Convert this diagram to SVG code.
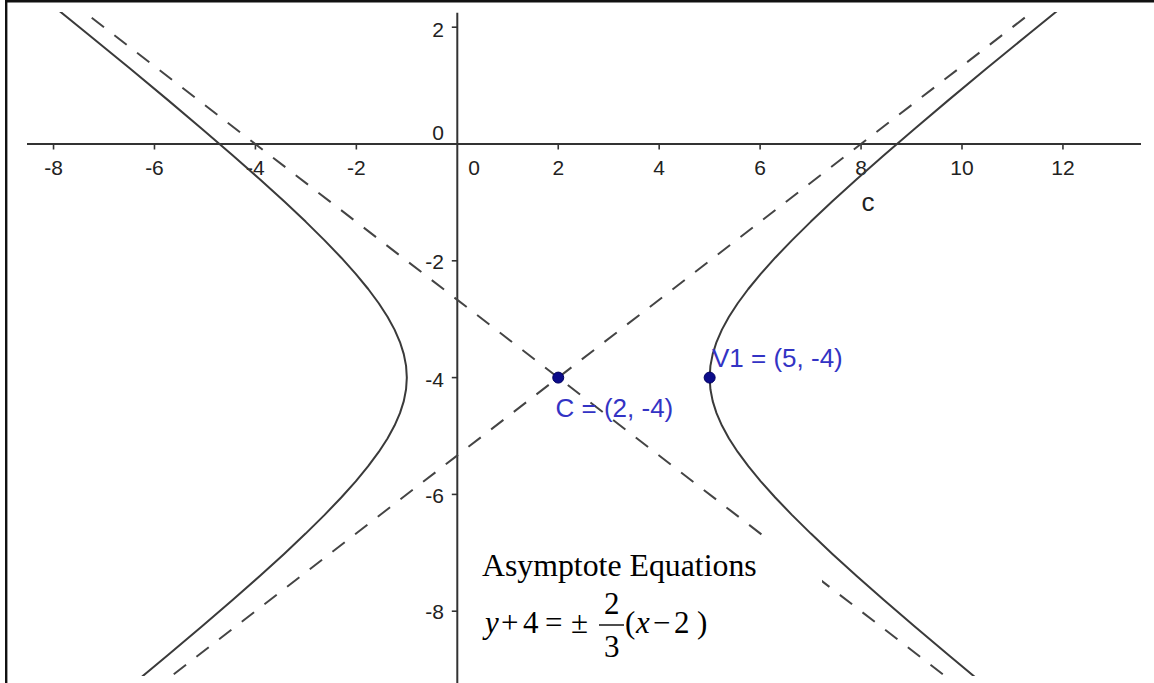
<svg xmlns="http://www.w3.org/2000/svg" width="1154" height="683" viewBox="0 0 1154 683">
<style>
.ax{stroke:#333;stroke-width:2;fill:none}
.tk{stroke:#333;stroke-width:1.6}
.lbl{font-family:"Liberation Sans",Arial,sans-serif;font-size:21px;fill:#222}
.yl{text-anchor:end}
.xl{text-anchor:middle}
.curve{stroke:#3a3a3a;stroke-width:2;fill:none;stroke-linejoin:round}
.asym{stroke:#444;stroke-width:2;fill:none;stroke-dasharray:15.5 13.13}
.pt{fill:#0c0c8a;stroke:#000060;stroke-width:1}
.ptl{font-family:"Liberation Sans",Arial,sans-serif;font-size:26px;fill:#3333c4}
.eq{font-family:"Liberation Serif","Times New Roman",serif;font-size:31px;fill:#000}
.it{font-style:italic}
</style>
<defs>
<clipPath id="view"><rect x="0" y="12" width="1154" height="664"/></clipPath>
</defs>
<rect width="1154" height="683" fill="#fff"/>
<g id="frame" stroke="#111" stroke-width="2.4">
<line x1="6.2" y1="0" x2="6.2" y2="683"/>
<line x1="5" y1="1.2" x2="1154" y2="1.2"/>
</g>
<g id="axes">
<line class="ax" x1="27" y1="144" x2="1141" y2="144"/>
<line class="ax" x1="457.3" y1="12.7" x2="457.3" y2="683"/>
<g class="tk">
<line x1="53.54" y1="144" x2="53.54" y2="149.5"/>
<line x1="154.48" y1="144" x2="154.48" y2="149.5"/>
<line x1="255.42" y1="144" x2="255.42" y2="149.5"/>
<line x1="356.36" y1="144" x2="356.36" y2="149.5"/>
<line x1="558.24" y1="144" x2="558.24" y2="149.5"/>
<line x1="659.18" y1="144" x2="659.18" y2="149.5"/>
<line x1="760.12" y1="144" x2="760.12" y2="149.5"/>
<line x1="861.06" y1="144" x2="861.06" y2="149.5"/>
<line x1="962" y1="144" x2="962" y2="149.5"/>
<line x1="1062.94" y1="144" x2="1062.94" y2="149.5"/>
<line x1="451.8" y1="27.2" x2="457.3" y2="27.2"/>
<line x1="451.8" y1="260.8" x2="457.3" y2="260.8"/>
<line x1="451.8" y1="377.6" x2="457.3" y2="377.6"/>
<line x1="451.8" y1="494.4" x2="457.3" y2="494.4"/>
<line x1="451.8" y1="611.2" x2="457.3" y2="611.2"/>
</g>
<g class="lbl xl">
<text x="53.54" y="175">-8</text>
<text x="154.48" y="175">-6</text>
<text x="255.42" y="175">-4</text>
<text x="356.36" y="175">-2</text>
<text x="474" y="175">0</text>
<text x="558.24" y="175">2</text>
<text x="659.18" y="175">4</text>
<text x="760.12" y="175">6</text>
<text x="861.06" y="175">8</text>
<text x="962" y="175">10</text>
<text x="1062.94" y="175">12</text>
</g>
<g class="lbl yl">
<text x="444" y="37">2</text>
<text x="444" y="140">0</text>
<text x="444" y="268.5">-2</text>
<text x="444" y="386.5">-4</text>
<text x="444" y="502.5">-6</text>
<text x="444" y="618.5">-8</text>
</g>
</g>
<g id="connectors" clip-path="url(#view)">
<line id="asymptote-falling" class="asym" x1="84.2" y1="12" x2="945" y2="676" stroke-dashoffset="19.13"/>
<line id="asymptote-rising" class="asym" x1="171.4" y1="676" x2="1032.1" y2="12" stroke-dashoffset="25.63"/>
</g>
<g id="equation-box">
<rect x="476" y="539" width="346" height="144" fill="#fff"/>
<text class="eq" x="482" y="576" style="font-size:31.8px">Asymptote Equations</text>
<text class="eq" y="633"><tspan class="it" x="485">y</tspan><tspan x="501">+</tspan><tspan x="523">4</tspan><tspan x="545">=</tspan><tspan x="571">±</tspan><tspan x="625">(</tspan><tspan class="it" x="636">x</tspan><tspan x="653">−</tspan><tspan x="674">2</tspan><tspan x="697">)</tspan></text>
<text class="eq" x="604" y="614">2</text>
<line x1="599" y1="625" x2="624" y2="625" stroke="#000" stroke-width="1.4"/>
<text class="eq" x="604" y="657">3</text>
</g>
<g id="hyperbola" clip-path="url(#view)">
<polyline id="branch-left" class="curve" points="40.76,-4.12 87.74,33.95 130.00,68.59 167.99,100.13 202.06,128.90 232.57,155.18 259.82,179.23 284.09,201.30 305.61,221.60 324.60,240.34 341.26,257.70 355.74,273.87 368.20,289.00 378.75,303.24 387.51,316.74 394.55,329.62 399.97,342.03 403.79,354.08 406.07,365.90 406.83,377.6 406.07,389.30 403.79,401.12 399.97,413.17 394.55,425.58 387.51,438.46 378.75,451.96 368.20,466.20 355.74,481.33 341.26,497.50 324.60,514.86 305.61,533.60 284.09,553.90 259.82,575.97 232.57,600.02 202.06,626.30 167.99,655.07 130.00,686.61"/>
<polyline id="branch-right" class="curve" points="1075.72,-4.12 1028.74,33.95 986.48,68.59 948.49,100.13 914.42,128.90 883.91,155.18 856.66,179.23 832.39,201.30 810.87,221.60 791.88,240.34 775.22,257.70 760.74,273.87 748.28,289.00 737.73,303.24 728.97,316.74 721.93,329.62 716.51,342.03 712.69,354.08 710.41,365.90 709.65,377.6 710.41,389.30 712.69,401.12 716.51,413.17 721.93,425.58 728.97,438.46 737.73,451.96 748.28,466.20 760.74,481.33 775.22,497.50 791.88,514.86 810.87,533.60 832.39,553.90 856.66,575.97 883.91,600.02 914.42,626.30 948.49,655.07 986.48,686.61"/>
</g>
<g id="label-c">
<text class="lbl" x="861.5" y="211" style="font-size:26px">c</text>
</g>
<g id="point-C">
<circle class="pt" cx="558.24" cy="377.6" r="5.5"/>
<text class="ptl" x="555.5" y="417">C = (2, -4)</text>
</g>
<g id="point-V1">
<circle class="pt" cx="709.65" cy="377.6" r="5.5"/>
<text class="ptl" x="712" y="367">V1 = (5, -4)</text>
</g>
</svg>
